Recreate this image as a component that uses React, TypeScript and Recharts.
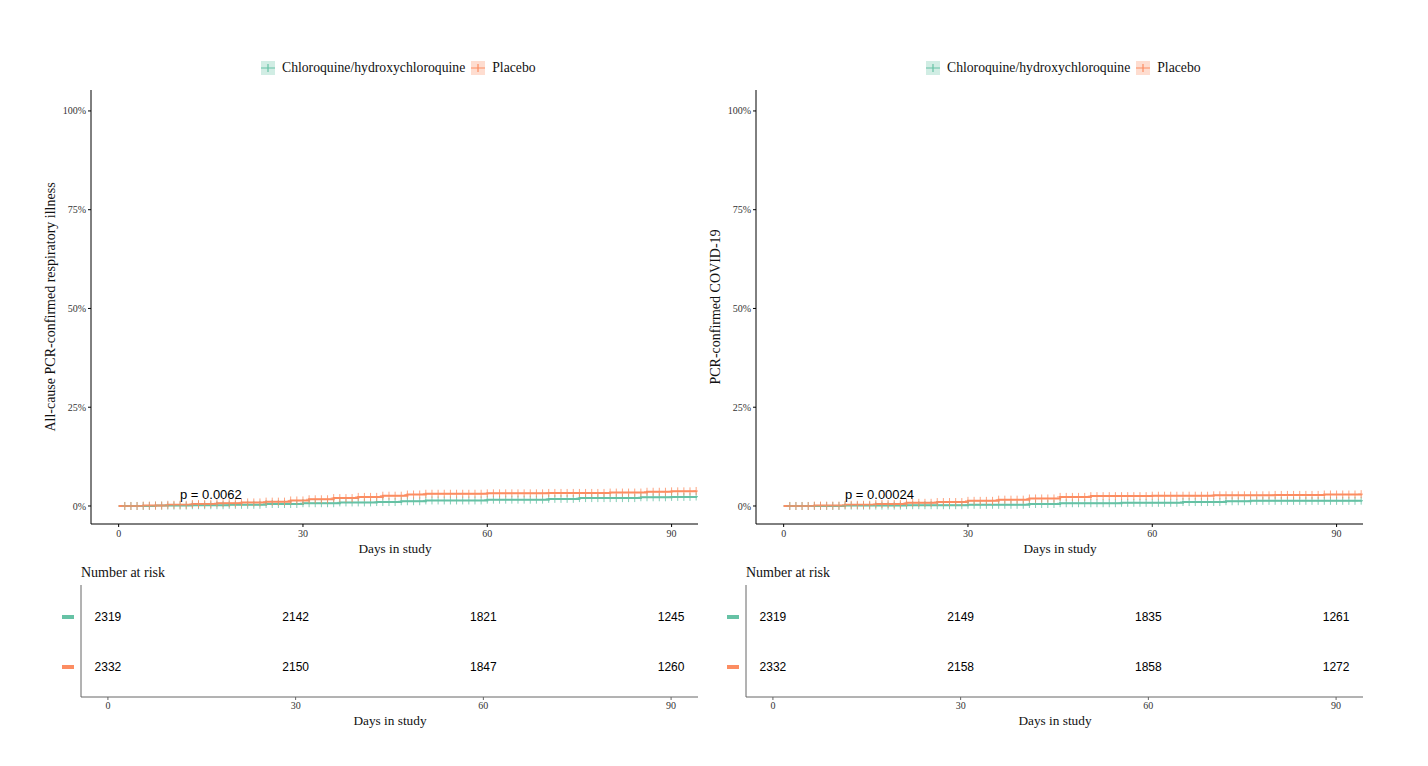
import { ComposedChart, Line, Scatter, ScatterChart, XAxis, YAxis } from "recharts";

const GREEN = "#66c2a5";
const ORANGE = "#fc8d62";
const SERIF = "'Liberation Serif', 'DejaVu Serif', serif";
const SANS = "'Liberation Sans', Arial, sans-serif";

const dayTicks = [0, 30, 60, 90];
const pctTicks = [0, 0.25, 0.5, 0.75, 1];
const seriesNames = ["Chloroquine/hydroxychloroquine", "Placebo"];

// step points of the curves: [day, cumulative incidence in %]
const illnessHcq: [number, number][] = [
  [0, 0], [6, 0.1], [12, 0.2], [18, 0.3], [24, 0.5], [30, 0.7], [36, 0.9], [42, 1.0],
  [46, 1.2], [50, 1.4], [60, 1.6], [70, 1.8], [75, 2.0], [85, 2.2], [90, 2.3], [94, 2.4],
];
const illnessPlacebo: [number, number][] = [
  [0, 0], [4, 0.1], [8, 0.3], [12, 0.5], [16, 0.7], [20, 0.9], [24, 1.1], [28, 1.4],
  [31, 1.7], [35, 2.0], [39, 2.3], [43, 2.6], [47, 2.9], [50, 3.1], [60, 3.2], [70, 3.3],
  [80, 3.4], [86, 3.6], [90, 3.7], [94, 3.8],
];
const covidHcq: [number, number][] = [
  [0, 0], [10, 0.1], [20, 0.2], [30, 0.3], [40, 0.5], [45, 0.7], [55, 0.8], [65, 1.0],
  [72, 1.2], [76, 1.3], [94, 1.35],
];
const covidPlacebo: [number, number][] = [
  [0, 0], [5, 0.1], [10, 0.3], [15, 0.5], [20, 0.8], [25, 1.0], [30, 1.3], [35, 1.6],
  [40, 1.9], [45, 2.3], [50, 2.5], [60, 2.6], [70, 2.7], [80, 2.8], [88, 2.9], [94, 3.0],
];

// days with censoring marks
const censorDays = [
  1, 2, 3, 4, 5, 6, 7, 8, 9, 10, 11, 12, 13, 14, 15, 16, 17, 18, 19, 20, 21, 22, 23, 24,
  25, 26, 27, 28, 29, 30, 31, 32, 33, 34, 35, 36, 37, 38, 39, 40, 41, 42, 43, 44, 45, 46,
  47, 48, 49, 50, 51, 52, 53, 54, 55, 56, 57, 58, 59, 60, 61, 62, 63, 64, 65, 66, 67, 68,
  69, 70, 71, 72, 73, 74, 75, 76, 77, 78, 79, 80, 81, 82, 83, 84, 85, 86, 87, 88, 89, 90,
  91, 92, 93, 94,
];

const riskDays = [0, 30, 60, 90];
const illnessRiskHcq = [2319, 2142, 1821, 1245];
const illnessRiskPlacebo = [2332, 2150, 1847, 1260];
const covidRiskHcq = [2319, 2149, 1835, 1261];
const covidRiskPlacebo = [2332, 2158, 1858, 1272];

function toLine(steps: [number, number][]) {
  return steps.map(([day, v]) => ({ day, pct: v / 100 }));
}

function valueAt(steps: [number, number][], day: number) {
  let v = 0;
  for (const [d, p] of steps) if (d <= day) v = p;
  return v / 100;
}

function toCensor(steps: [number, number][]) {
  return censorDays.map((day) => ({ day, pct: valueAt(steps, day) }));
}

function toRisk(counts: number[], row: number) {
  return counts.map((n, i) => ({ day: riskDays[i], row, n }));
}

function Cross(color: string) {
  return (props: any) => {
    const { cx, cy } = props;
    if (cx == null || cy == null) return <g />;
    return (
      <path
        d={`M${cx - 3},${cy}H${cx + 3}M${cx},${cy - 4}V${cy + 4}`}
        stroke={color}
        strokeWidth={1}
        strokeOpacity={0.8}
        fill="none"
      />
    );
  };
}

function RiskText(props: any) {
  const { cx, cy, payload } = props;
  return (
    <text x={cx} y={cy} textAnchor="middle" dominantBaseline="central" fontFamily={SANS} fontSize={12} fill="#000">
      {payload.n}
    </text>
  );
}

function RowKey(props: any) {
  const { x, y, payload } = props;
  const color = payload.value === 2 ? GREEN : ORANGE;
  return <rect x={x - 12} y={y - 2} width={12} height={4} fill={color} />;
}

function LegendKey({ color }: { color: string }) {
  return (
    <svg width={14} height={14} style={{ display: "block" }}>
      <rect x={0} y={0} width={14} height={14} fill={color} fillOpacity={0.3} />
      <path d="M0,7H14M7,3V11" stroke={color} strokeWidth={1.2} />
    </svg>
  );
}

function Panel({
  left, yTitle, pLabel, hcq, placebo, riskHcq, riskPlacebo, legendX,
}: {
  left: number;
  yTitle: string;
  pLabel: string;
  hcq: [number, number][];
  placebo: [number, number][];
  riskHcq: number[];
  riskPlacebo: number[];
  legendX: number;
}) {
  const tickStyle = { fontFamily: SERIF, fontSize: 10, fill: "#333" };
  return (
    <>
      <div
        style={{
          position: "absolute", left: legendX, top: 60, display: "flex", alignItems: "center",
          fontFamily: SERIF, fontSize: 13.7, color: "#111", whiteSpace: "nowrap",
        }}
      >
        <LegendKey color={GREEN} />
        <span style={{ marginLeft: 7, marginRight: 6 }}>{seriesNames[0]}</span>
        <LegendKey color={ORANGE} />
        <span style={{ marginLeft: 7 }}>{seriesNames[1]}</span>
      </div>

      <div
        style={{
          position: "absolute", left: left + 51, top: 307, transform: "translate(-50%, -50%) rotate(-90deg)",
          fontFamily: SERIF, fontSize: 14, color: "#111", whiteSpace: "nowrap",
        }}
      >
        {yTitle}
      </div>

      <div style={{ position: "absolute", left, top: 0 }}>
        <ComposedChart width={714} height={570} margin={{ top: 90, right: 16, bottom: 26, left: 46 }}>
          <XAxis
            type="number"
            dataKey="day"
            domain={[-4.5, 94.3]}
            allowDataOverflow
            ticks={dayTicks}
            tickSize={3}
            tickMargin={3}
            height={20}
            stroke="#000"
            tick={tickStyle}
          />
          <YAxis
            type="number"
            dataKey="pct"
            domain={[-0.0456, 1.053]}
            allowDataOverflow
            ticks={pctTicks}
            tickFormatter={(v: number) => `${Math.round(v * 100)}%`}
            tickSize={3}
            tickMargin={2}
            width={45}
            stroke="#000"
            tick={tickStyle}
          />
          <Line data={toLine(hcq)} dataKey="pct" type="stepAfter" stroke={GREEN} strokeWidth={2} dot={false} isAnimationActive={false} />
          <Scatter data={toCensor(hcq)} dataKey="pct" shape={Cross(GREEN)} isAnimationActive={false} />
          <Line data={toLine(placebo)} dataKey="pct" type="stepAfter" stroke={ORANGE} strokeWidth={2} dot={false} isAnimationActive={false} />
          <Scatter data={toCensor(placebo)} dataKey="pct" shape={Cross(ORANGE)} isAnimationActive={false} />
        </ComposedChart>
      </div>

      <div
        style={{
          position: "absolute", left: left + 180, top: 487, fontFamily: SANS, fontSize: 13, color: "#000", whiteSpace: "nowrap",
        }}
      >
        {pLabel}
      </div>

      <div
        style={{
          position: "absolute", left: left + 395, top: 549, transform: "translate(-50%, -50%)",
          fontFamily: SERIF, fontSize: 13.3, color: "#111", whiteSpace: "nowrap",
        }}
      >
        Days in study
      </div>

      <div
        style={{
          position: "absolute", left: left + 81, top: 573, transform: "translateY(-50%)",
          fontFamily: SERIF, fontSize: 14, color: "#111", whiteSpace: "nowrap",
        }}
      >
        Number at risk
      </div>

      <div style={{ position: "absolute", left, top: 560 }}>
        <ScatterChart width={714} height={180} margin={{ top: 25, right: 16, bottom: 23, left: 51 }}>
          <XAxis
            type="number"
            dataKey="day"
            domain={[-4.3, 94.3]}
            allowDataOverflow
            ticks={dayTicks}
            tickSize={3}
            tickMargin={2}
            height={20}
            stroke="#666"
            tick={{ ...tickStyle, fill: "#333" }}
          />
          <YAxis
            type="number"
            dataKey="row"
            domain={[0.4, 2.64]}
            allowDataOverflow
            ticks={[1, 2]}
            tickSize={0}
            tickMargin={7}
            width={30}
            stroke="#666"
            tick={<RowKey />}
          />
          <Scatter data={toRisk(riskHcq, 2)} shape={<RiskText />} isAnimationActive={false} />
          <Scatter data={toRisk(riskPlacebo, 1)} shape={<RiskText />} isAnimationActive={false} />
        </ScatterChart>
      </div>

      <div
        style={{
          position: "absolute", left: left + 390, top: 721, transform: "translate(-50%, -50%)",
          fontFamily: SERIF, fontSize: 13.3, color: "#111", whiteSpace: "nowrap",
        }}
      >
        Days in study
      </div>
    </>
  );
}

export default function App() {
  return (
    <div style={{ position: "absolute", left: 0, top: 0, width: 1428, height: 766, background: "#fff" }}>
      <Panel
        left={0}
        yTitle="All-cause PCR-confirmed respiratory illness"
        pLabel="p = 0.0062"
        hcq={illnessHcq}
        placebo={illnessPlacebo}
        riskHcq={illnessRiskHcq}
        riskPlacebo={illnessRiskPlacebo}
        legendX={261}
      />
      <Panel
        left={665}
        yTitle="PCR-confirmed COVID-19"
        pLabel="p = 0.00024"
        hcq={covidHcq}
        placebo={covidPlacebo}
        riskHcq={covidRiskHcq}
        riskPlacebo={covidRiskPlacebo}
        legendX={926}
      />
    </div>
  );
}
